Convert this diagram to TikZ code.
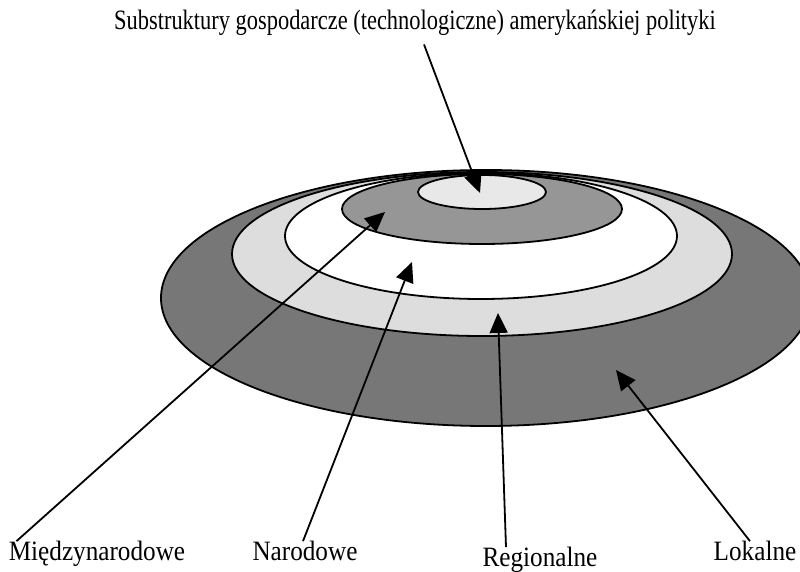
\documentclass[tikz,border=0pt]{standalone}
\usepackage{fontspec}
\setmainfont{Liberation Serif}
\usetikzlibrary{arrows.meta}
\definecolor{lokalgray}{HTML}{777777}
\definecolor{regiongray}{HTML}{DDDDDD}
\definecolor{miedzygray}{HTML}{969696}
\definecolor{coregray}{HTML}{E8E8E8}
\tikzset{
    layer/.style={draw=black, line width=0.9pt},
    pointer/.style={line width=0.9pt, -{Triangle[length=10pt,width=9pt]}},
    caption/.style={font=\fontsize{14}{16}\selectfont, inner sep=0pt, anchor=base, xscale=0.9},
}

\begin{document}
\begin{tikzpicture}[x=0.5pt,y=-0.5pt]
    \useasboundingbox (0,0) rectangle (800,572);

    % warstwy
    \begin{scope}
        \clip (0,0) rectangle (800,572);
        \draw[layer, fill=lokalgray] (486,298) ellipse [x radius=325, y radius=128];
        \draw[layer, fill=regiongray] (482,254) ellipse [x radius=250, y radius=82];
        \draw[layer, fill=white] (481,236) ellipse [x radius=196, y radius=63];
        \draw[layer, fill=miedzygray] (482,209) ellipse [x radius=140, y radius=35];
        \draw[layer, fill=coregray] (482,192) ellipse [x radius=64, y radius=17];
    \end{scope}

    \coordinate (t_sub) at (480,193);
    \coordinate (t_miedzy) at (385,212);
    \coordinate (t_nar) at (412,262);
    \coordinate (t_reg) at (498,313);
    \coordinate (t_lok) at (616,370);

    % podpisy
    \node[caption, xscale=0.89] (sub) at (415,30) {Substruktury gospodarcze (technologiczne) amerykańskiej polityki};
    \node[caption] (miedzy) at (97,561) {Międzynarodowe};
    \node[caption] (nar) at (305,561) {Narodowe};
    \node[caption] (reg) at (540,567) {Regionalne};
    \node[caption] (lok) at (755,561) {Lokalne};

    \draw[pointer] ([xshift=4.5pt,yshift=-4pt]sub.south) -- (t_sub);
    \draw[pointer] ([xshift=4pt]miedzy.north west) -- (t_miedzy);
    \draw[pointer] ([xshift=-1pt]nar.north) -- (t_nar);
    \draw[pointer] ([xshift=-17pt]reg.north) -- (t_reg);
    \draw[pointer] ([xshift=-2.5pt]lok.north) -- (t_lok);
\end{tikzpicture}
\end{document}
